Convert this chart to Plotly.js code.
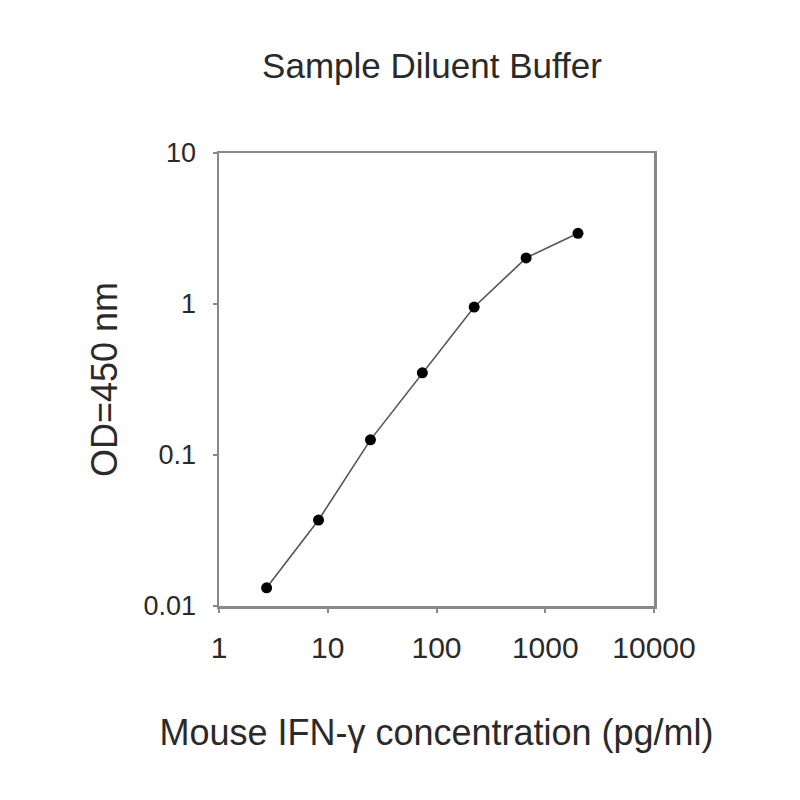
<!DOCTYPE html>
<html>
<head>
<meta charset="utf-8">
<script src="https://cdn.plot.ly/plotly-3.0.1.min.js"></script>
<style>html,body{margin:0;padding:0;background:#fff;}#chart{width:800px;height:800px;}</style>
</head>
<body>
<div id="chart"></div>
<script>
const concentration = [2.74, 8.23, 24.7, 74.1, 222, 667, 2000];
const od450 = [0.0132, 0.0371, 0.126, 0.35, 0.955, 2.02, 2.94];
const xTickVals = [1, 10, 100, 1000, 10000];
const xTickText = ["1", "10", "100", "1000", "10000"];
const yTickVals = [0.01, 0.1, 1, 10];
const yTickText = ["0.01", "0.1", "1", "10"];
const chartTitle = "Sample Diluent Buffer";
const xTitle = "Mouse IFN-γ concentration (pg/ml)";
const yTitle = "OD=450 nm";

const FONT = "Liberation Sans, Arial, sans-serif";
const trace = {
  x: concentration,
  y: od450,
  type: "scatter",
  mode: "lines+markers",
  line: {color: "#555555", width: 1.6},
  marker: {color: "#000000", size: 11},
  showlegend: false
};
const layout = {
  width: 800, height: 800,
  paper_bgcolor: "#ffffff", plot_bgcolor: "#ffffff",
  margin: {l: 219, r: 146, t: 153, b: 194},
  font: {family: FONT, color: "#2a2a2a"},
  title: {text: chartTitle, font: {family: FONT, size: 35, color: "#2a2a2a"},
          x: 0.54, xanchor: "center", y: 1 - 66/800, yanchor: "middle", yref: "container"},
  xaxis: {
    type: "log", range: [0, 4],
    tickvals: xTickVals, ticktext: xTickText,
    ticks: "outside", ticklen: 4, tickwidth: 2, tickcolor: "#888888",
    ticklabelstandoff: 9,
    tickfont: {family: FONT, size: 30, color: "#2a2a2a"},
    showline: true, linecolor: "#888888", linewidth: 2.5, mirror: true,
    showgrid: false, zeroline: false,
    title: {text: xTitle, font: {family: FONT, size: 36, color: "#2a2a2a"}, standoff: 58}
  },
  yaxis: {
    type: "log", range: [-2, 1],
    tickvals: yTickVals, ticktext: yTickText,
    ticks: "outside", ticklen: 4, tickwidth: 2, tickcolor: "#888888",
    ticklabelstandoff: 11,
    tickfont: {family: FONT, size: 27, color: "#2a2a2a"},
    showline: true, linecolor: "#888888", linewidth: 2.5, mirror: true,
    showgrid: false, zeroline: false,
    title: {text: yTitle, font: {family: FONT, size: 36, color: "#2a2a2a"}, standoff: 15}
  }
};
Plotly.newPlot("chart", [trace], layout, {displayModeBar: false, staticPlot: true});
</script>
</body>
</html>
